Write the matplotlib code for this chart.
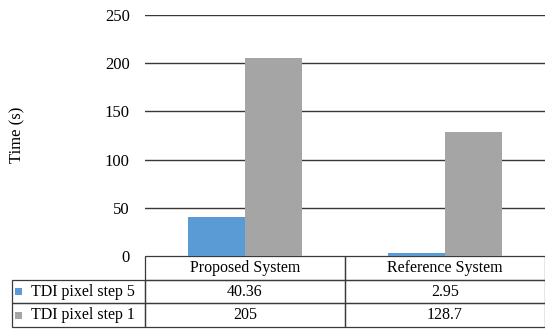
import matplotlib
matplotlib.use("Agg")
import matplotlib.pyplot as plt
from matplotlib.patches import Rectangle

plt.rcParams['font.family'] = ['Liberation Serif', 'DejaVu Serif']

categories = ["Proposed System", "Reference System"]
series_names = ["TDI pixel step 5", "TDI pixel step 1"]
step5 = [40.36, 2.95]
step1 = [205, 128.7]
series_values = [step5, step1]
colors = ["#5B9BD5", "#A5A5A5"]
yticks = [0, 50, 100, 150, 200, 250]

W, H = 545, 329
fig = plt.figure(figsize=(W / 100, H / 100), dpi=100)
ax = fig.add_axes([145 / W, (H - 256) / H, 400 / W, 241 / H])

x = list(range(len(categories)))
bw = 0.285
offsets = [-bw / 2, bw / 2]
for vals, off, col in zip(series_values, offsets, colors):
    ax.bar([xi + off for xi in x], vals, width=bw, color=col, zorder=3)

ax.set_xlim(-0.5, len(categories) - 0.5)
ax.set_ylim(0, 250)
ax.set_yticks(yticks)
ax.set_yticklabels([str(t) for t in yticks], fontsize=12)
ax.tick_params(axis='y', length=0, pad=11)
ax.set_xticks([])
for t in yticks[1:]:
    ax.axhline(t, color="#3d3535", lw=1.0, zorder=1)
for s in ax.spines.values():
    s.set_visible(False)

fig.text(17 / W, 1 - 135 / H, "Time (s)", rotation=90, ha='center', va='center', fontsize=12)

# data table under the bars
cell_text = [[name] + [f"{v:g}" for v in vals] for name, vals in zip(series_names, series_values)]
tbl = ax.table(cellText=cell_text, colLabels=[""] + categories,
               cellLoc='center', bbox=[(12 - 145) / 400, -71 / 241, 533 / 400, 71 / 241])
tbl.auto_set_font_size(False)
tbl.set_fontsize(11.5)
col_w = [133, 200, 200]
for (r, c), cell in tbl.get_celld().items():
    cell.set_width(col_w[c])
    cell.set_edgecolor("#3a3a3a")
    cell.set_linewidth(0.9)
    cell.set_facecolor('none')
    if r == 0 and c == 0:
        cell.visible_edges = ''
    if c == 0 and r > 0:
        cell._loc = 'left'
        cell.PAD = 0.145
        cell.get_text().set_ha('left')

# legend keys inside the row label cells
row_h = 71 / 3
for i, col in enumerate(colors):
    yc = 256 + row_h * (i + 1.5)
    fig.patches.append(Rectangle((15 / W, 1 - (yc + 3.5) / H), 7 / W, 7 / H,
                                 transform=fig.transFigure, facecolor=col,
                                 edgecolor='none', figure=fig))

fig.savefig("out.png", dpi=100)
